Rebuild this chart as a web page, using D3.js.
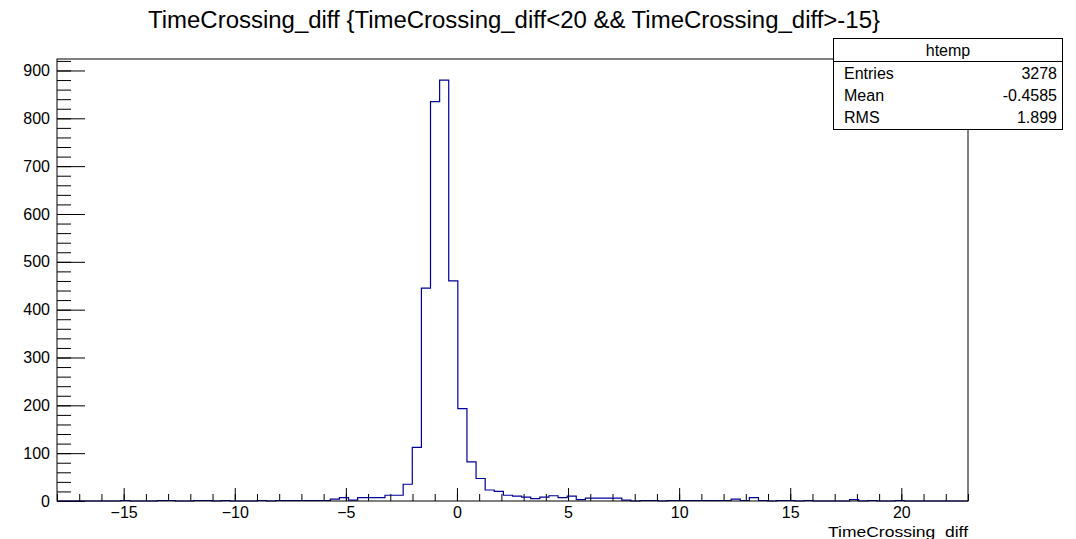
<!DOCTYPE html>
<meta charset="utf-8">
<style>
body { margin: 0; background: #fff; }
svg text { font-family: "Liberation Sans", Arial, Helvetica, sans-serif; fill: #000; }
.axis line { stroke: #000; }
.axis path { display: none; }
</style>
<body>
<svg width="1076" height="539"></svg>
<script src="https://d3js.org/d3.v7.min.js"></script>
<script>

// histogram htemp: 100 bins from -18 to 23
var xRange = [-18, 23];
var counts = [
  0, 0, 0, 0, 0, 0, 0, 1, 0, 0,
  0, 1, 1, 0, 0, 1, 1, 0, 1, 0,
  0, 0, 1, 0, 1, 1, 1, 1, 1, 1,
  4, 7, 2, 7, 7, 7, 12, 12, 35, 112,
  445, 835, 880, 460, 193, 82, 47, 23, 20, 12,
  10, 8, 5, 8, 11, 7, 10, 3, 6, 6,
  6, 6, 2, 0, 1, 1, 0, 1, 1, 1,
  1, 1, 1, 1, 4, 1, 7, 1, 0, 1,
  1, 0, 1, 0, 0, 0, 0, 3, 0, 1,
  0, 0, 1, 0, 0, 0, 0, 0, 0, 0
];
var xMajorTicks = [-15, -10, -5, 0, 5, 10, 15, 20];
var yMajorTicks = [0, 100, 200, 300, 400, 500, 600, 700, 800, 900];
var statNames = ["Entries", "Mean", "RMS"];
var statValues = ["3278", "-0.4585", "1.899"];
var histName = "htemp";
var title = "TimeCrossing_diff {TimeCrossing_diff<20 && TimeCrossing_diff>-15}";
var xTitle = "TimeCrossing_diff";

var svg = d3.select("svg");
var frame = {left: 57, right: 968, top: 59, bottom: 501};

var x = d3.scaleLinear().domain(xRange).range([frame.left, frame.right]);
var y = d3.scaleLinear().domain([0, d3.max(counts) * 1.05]).range([frame.bottom, frame.top]);

var binW = (xRange[1] - xRange[0]) / counts.length;

// minor ticks
var xMinor = d3.range(xRange[0], xRange[1] + 0.001, 1);
var yMinor = d3.range(0, y.domain()[1], 20);

svg.append("g").attr("class", "axis")
    .attr("transform", "translate(0," + frame.bottom + ")")
    .call(d3.axisBottom(x).tickValues(xMinor).tickSize(-7).tickFormat(""));
svg.append("g").attr("class", "axis")
    .attr("transform", "translate(0," + frame.bottom + ")")
    .call(d3.axisBottom(x).tickValues(xMajorTicks).tickSize(-13).tickPadding(6).tickFormat(d3.format("d")))
    .selectAll("text").style("font-size", "16px");

svg.append("g").attr("class", "axis")
    .attr("transform", "translate(" + frame.left + ",0)")
    .call(d3.axisLeft(y).tickValues(yMinor).tickSize(-14).tickFormat(""));
svg.append("g").attr("class", "axis")
    .attr("transform", "translate(" + frame.left + ",0)")
    .call(d3.axisLeft(y).tickValues(yMajorTicks).tickSize(-28).tickPadding(7).tickFormat(d3.format("d")))
    .selectAll("text").style("font-size", "16px");

// histogram outline
var pts = [[xRange[0], 0]];
counts.forEach(function(c, i) {
  var lo = xRange[0] + i * binW;
  pts.push([lo, c], [lo + binW, c]);
});
pts.push([xRange[1], 0]);

svg.append("path")
    .datum(pts)
    .attr("fill", "none")
    .attr("stroke", "#000099")
    .attr("stroke-width", 1.2)
    .attr("d", d3.line().x(function(d) { return x(d[0]); }).y(function(d) { return y(d[1]); }));

// frame
svg.append("rect")
    .attr("x", frame.left).attr("y", frame.top)
    .attr("width", frame.right - frame.left).attr("height", frame.bottom - frame.top)
    .attr("fill", "none").attr("stroke", "#000").attr("stroke-width", 1);

// title
svg.append("text")
    .attr("x", 514).attr("y", 28)
    .attr("text-anchor", "middle")
    .style("font-size", "23px")
    .attr("textLength", 732)
    .attr("lengthAdjust", "spacingAndGlyphs")
    .text(title);

// x axis title
svg.append("text")
    .attr("x", frame.right).attr("y", 536.5)
    .attr("text-anchor", "end")
    .style("font-size", "15px")
    .attr("textLength", 140)
    .attr("lengthAdjust", "spacingAndGlyphs")
    .text(xTitle);

// stats box
var box = svg.append("g");
box.append("rect")
    .attr("x", 833.5).attr("y", 38.5).attr("width", 229).attr("height", 91)
    .attr("fill", "#fff").attr("stroke", "#000");
box.append("line")
    .attr("x1", 833.5).attr("x2", 1062.5).attr("y1", 61.5).attr("y2", 61.5)
    .attr("stroke", "#000");
box.append("text")
    .attr("x", 948).attr("y", 56)
    .attr("text-anchor", "middle").style("font-size", "16px")
    .text(histName);
statNames.forEach(function(n, i) {
  box.append("text").attr("x", 844).attr("y", 79 + i * 22)
      .style("font-size", "16px").text(n);
  box.append("text").attr("x", 1057).attr("y", 79 + i * 22)
      .attr("text-anchor", "end").style("font-size", "16px").text(statValues[i]);
});

</script>
</body>
